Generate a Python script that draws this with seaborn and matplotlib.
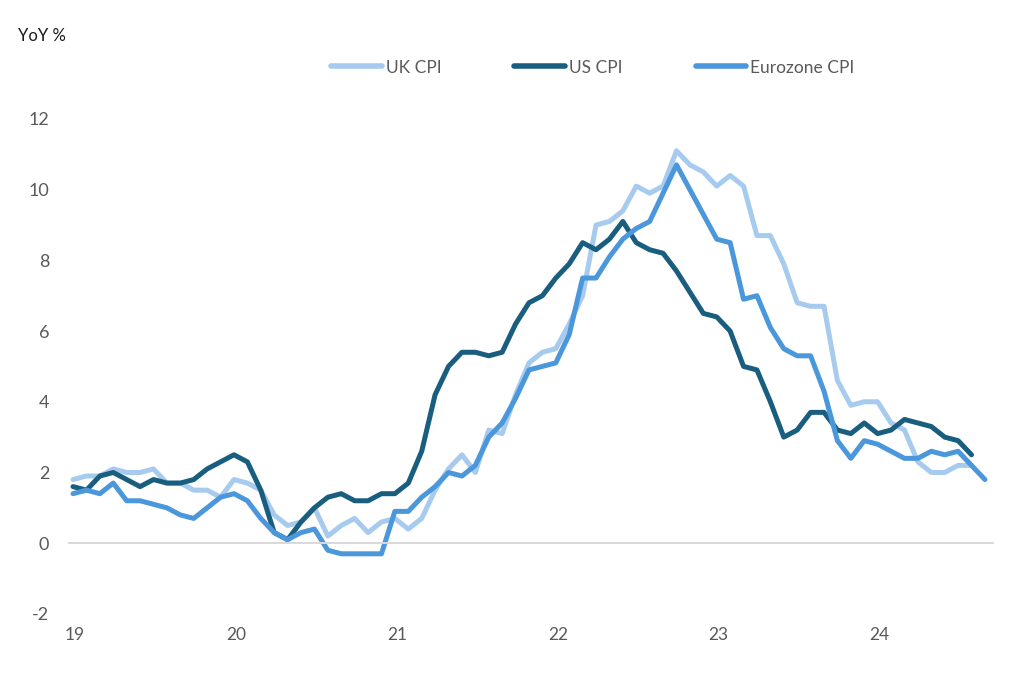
import numpy as np
import pandas as pd
import matplotlib
matplotlib.use("Agg")
import matplotlib.pyplot as plt
import seaborn as sns

# Inflação anual (%), mensal, jan/2019 em diante
uk_cpi = [1.8, 1.9, 1.9, 2.1, 2.0, 2.0, 2.1, 1.7, 1.7, 1.5, 1.5, 1.3,
          1.8, 1.7, 1.5, 0.8, 0.5, 0.6, 1.0, 0.2, 0.5, 0.7, 0.3, 0.6,
          0.7, 0.4, 0.7, 1.5, 2.1, 2.5, 2.0, 3.2, 3.1, 4.2, 5.1, 5.4,
          5.5, 6.2, 7.0, 9.0, 9.1, 9.4, 10.1, 9.9, 10.1, 11.1, 10.7, 10.5,
          10.1, 10.4, 10.1, 8.7, 8.7, 7.9, 6.8, 6.7, 6.7, 4.6, 3.9, 4.0,
          4.0, 3.4, 3.2, 2.3, 2.0, 2.0, 2.2, 2.2]
us_cpi = [1.6, 1.5, 1.9, 2.0, 1.8, 1.6, 1.8, 1.7, 1.7, 1.8, 2.1, 2.3,
          2.5, 2.3, 1.5, 0.3, 0.1, 0.6, 1.0, 1.3, 1.4, 1.2, 1.2, 1.4,
          1.4, 1.7, 2.6, 4.2, 5.0, 5.4, 5.4, 5.3, 5.4, 6.2, 6.8, 7.0,
          7.5, 7.9, 8.5, 8.3, 8.6, 9.1, 8.5, 8.3, 8.2, 7.7, 7.1, 6.5,
          6.4, 6.0, 5.0, 4.9, 4.0, 3.0, 3.2, 3.7, 3.7, 3.2, 3.1, 3.4,
          3.1, 3.2, 3.5, 3.4, 3.3, 3.0, 2.9, 2.5]
ez_cpi = [1.4, 1.5, 1.4, 1.7, 1.2, 1.2, 1.1, 1.0, 0.8, 0.7, 1.0, 1.3,
          1.4, 1.2, 0.7, 0.3, 0.1, 0.3, 0.4, -0.2, -0.3, -0.3, -0.3, -0.3,
          0.9, 0.9, 1.3, 1.6, 2.0, 1.9, 2.2, 3.0, 3.4, 4.1, 4.9, 5.0,
          5.1, 5.9, 7.5, 7.5, 8.1, 8.6, 8.9, 9.1, 9.9, 10.7, 10.0, 9.3,
          8.6, 8.5, 6.9, 7.0, 6.1, 5.5, 5.3, 5.3, 4.3, 2.9, 2.4, 2.9,
          2.8, 2.6, 2.4, 2.4, 2.6, 2.5, 2.6, 2.2, 1.8]

anos = ['19', '20', '21', '22', '23', '24']
series = ['UK CPI', 'US CPI', 'Eurozone CPI']
cores = ['#A6CBEE', '#1A5E7F', '#4B97DB']

# montando tabela longa para o seaborn
frames = []
for nome, valores in zip(series, [uk_cpi, us_cpi, ez_cpi]):
    frames.append(pd.DataFrame({'mes': np.arange(len(valores)), 'cpi': valores, 'serie': nome}))
dados = pd.concat(frames, ignore_index=True)

sns.set_style('white')
plt.rcParams['font.family'] = ['Lato', 'DejaVu Sans']
plt.rcParams['axes.unicode_minus'] = False

fig = plt.figure(figsize=(10.24, 6.89), dpi=100)
ax = fig.add_axes([0.067, 0.109, 0.9027, 0.7184])

sns.lineplot(data=dados, x='mes', y='cpi', hue='serie', hue_order=series,
             palette=dict(zip(series, cores)), lw=3.6, ax=ax,
             solid_capstyle='round', solid_joinstyle='round')

# eixos
ax.set_xlim(-0.33, 68.6)
ax.set_ylim(-2, 12)
ax.set_xlabel('')
ax.set_ylabel('')
ax.set_yticks(range(-2, 13, 2))
ax.tick_params(axis='y', length=0, pad=14, labelsize=13, labelcolor='#595959')

for lado in ['left', 'top', 'right']:
    ax.spines[lado].set_visible(False)
ax.spines['bottom'].set_position(('data', 0))
ax.spines['bottom'].set_color('#D9D9D9')
ax.spines['bottom'].set_linewidth(1.4)

ax.set_xticks([12 * k - 0.33 for k in range(len(anos))])
ax.tick_params(axis='x', length=5, width=1.4, color='#D9D9D9', direction='out', labelbottom=False)

# rótulos dos anos na parte de baixo
sec = ax.secondary_xaxis('bottom')
sec.set_xticks([12 * k + 0.15 for k in range(len(anos))], labels=anos)
sec.tick_params(length=0, pad=9.5, labelsize=12.5, labelcolor='#595959')
sec.spines['bottom'].set_visible(False)

# legenda
handles, labels = ax.get_legend_handles_labels()
ax.get_legend().remove()
leg = fig.legend(handles, labels, loc='center', bbox_to_anchor=(0.579, 0.902), ncol=3,
                 frameon=False, fontsize=12.5, handlelength=2.9, handletextpad=0.25,
                 columnspacing=4.2, labelcolor='#595959')
for linha in leg.get_lines():
    linha.set_linewidth(4)
    linha.set_solid_capstyle('round')

fig.text(0.0176, 0.948, 'YoY %', fontsize=12, color='#1A1A1A', va='center', ha='left')

fig.savefig('out.png', dpi=100)
